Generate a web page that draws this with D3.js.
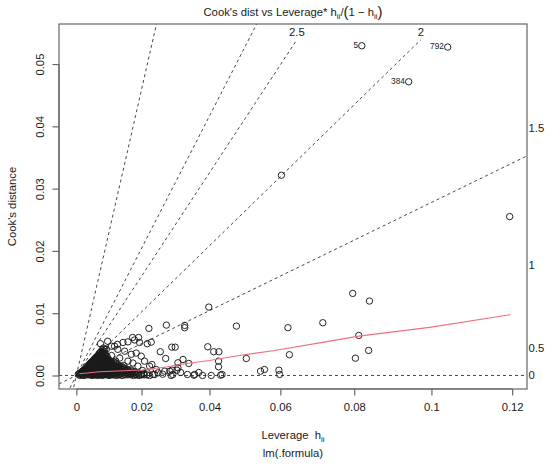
<!DOCTYPE html>
<html>
<head>
<meta charset="utf-8">
<script src="https://cdn.jsdelivr.net/npm/d3@7"></script>
<style>
  body { margin: 0; background: #fff; }
  text { font-family: "Liberation Sans", Arial, Helvetica, sans-serif; fill: #1a1a1a; }
</style>
</head>
<body>
<div id="chart"></div>
<script>
// axis ticks: leverage labels are pretty(hii), drawn at h/(1-h)
const levTicks = [0, 0.02, 0.04, 0.06, 0.08, 0.1, 0.12];
const levTickLabels = ["0", "0.02", "0.04", "0.06", "0.08", "0.1", "0.12"];
const cookTicks = [0, 0.01, 0.02, 0.03, 0.04, 0.05];
const cookTickLabels = ["0.00", "0.01", "0.02", "0.03", "0.04", "0.05"];

// Cook's distance contour levels and number of coefficients
const contourVals = [0, 0.5, 1, 1.5, 2, 2.5];
const nCoef = 8;

// labelled observations
const idLabels = ["5", "792", "384"];
const idLev = [0.0820, 0.1041, 0.0942];
const idCook = [0.05294, 0.05273, 0.04716];

// the other observations [leverage, cook's distance]
const obs = [
  // spread-out points
  [0.0603, 0.03215], [0.1194, 0.02551], [0.0796, 0.01318], [0.0840, 0.01195],
  [0.0716, 0.00847], [0.0812, 0.00643], [0.0803, 0.00278], [0.0838, 0.00402],
  [0.0621, 0.00767], [0.0625, 0.00333], [0.0596, 0.00085], [0.0598, 0.00016],
  [0.0545, 0.00069], [0.0556, 0.00096], [0.0505, 0.00273], [0.0477, 0.00793],
  [0.0398, 0.01098], [0.0426, 0.00230], [0.0426, 0.00140], [0.0412, 0.00381],
  [0.0427, 0.00381], [0.0395, 0.00461], [0.0405, 0.00000], [0.0432, 0.00005],
  [0.0436, 0.00016], [0.0357, 0.00016], [0.0355, 0.00005], [0.0328, 0.00804],
  [0.0328, 0.00767], [0.0323, 0.00257], [0.0308, 0.00204], [0.0340, 0.00193],
  [0.0274, 0.00809], [0.0222, 0.00756], [0.0217, 0.00510], [0.0229, 0.00535],
  [0.0256, 0.00381], [0.0272, 0.00273], [0.0290, 0.00455], [0.0300, 0.00455],
  [0.0231, 0.00177], [0.0244, 0.00096], [0.0269, 0.00069], [0.0284, 0.00069],
  [0.0305, 0.00085], [0.0293, 0.00016], [0.0217, 0.00043], [0.0234, 0.00016],
  [0.0249, 0.00043], [0.0308, 0.00124], [0.0291, 0.00085],
  [0.0239, 0.00016], [0.0263, 0.00020], [0.0288, 0.00000], [0.0316, 0.00048],
  [0.0336, 0.00016], [0.0369, 0.00048], [0.0380, 0.00000],
  // open circles around the dense cluster
  [0.0075, 0.0051], [0.0093, 0.0042], [0.0097, 0.0055], [0.0109, 0.0047],
  [0.0118, 0.0047], [0.0127, 0.0050], [0.0144, 0.0053], [0.0159, 0.0054],
  [0.0173, 0.0061], [0.0179, 0.0057], [0.0191, 0.0061], [0.0194, 0.0053],
  [0.0128, 0.0042], [0.0149, 0.0039], [0.0169, 0.0034], [0.0184, 0.0036],
  [0.0199, 0.0031], [0.0134, 0.0028], [0.0159, 0.0023], [0.0174, 0.0020],
  [0.0189, 0.0015], [0.0209, 0.0023], [0.0224, 0.0015], [0.0203, 0.0008],
  [0.0109, 0.0032], [0.0122, 0.0023], [0.0146, 0.0016], [0.0100, 0.0021],
  // dense cluster near the origin
  [0.0011, 0.0000], [0.0024, 0.0000], [0.0037, 0.0001], [0.0049, 0.0000], [0.0058, 0.0001],
  [0.0066, 0.0000], [0.0079, 0.0000], [0.0087, 0.0001], [0.0101, 0.0000], [0.0112, 0.0001],
  [0.0124, 0.0000], [0.0141, 0.0000], [0.0159, 0.0001], [0.0176, 0.0000], [0.0192, 0.0000],
  [0.0208, 0.0001], [0.0224, 0.0000],
  [0.0018, 0.0001], [0.0030, 0.0001], [0.0043, 0.0001], [0.0054, 0.0001], [0.0062, 0.0001],
  [0.0072, 0.0001], [0.0083, 0.0001], [0.0094, 0.0001], [0.0107, 0.0001], [0.0118, 0.0001],
  [0.0132, 0.0001], [0.0150, 0.0001], [0.0168, 0.0001], [0.0184, 0.0001], [0.0200, 0.0001],
  [0.0216, 0.0001],
  [0.0006, 0.0002], [0.0015, 0.0002], [0.0027, 0.0003], [0.0033, 0.0002], [0.0045, 0.0002],
  [0.0053, 0.0003], [0.0062, 0.0002], [0.0071, 0.0002], [0.0083, 0.0003], [0.0094, 0.0002],
  [0.0106, 0.0002], [0.0118, 0.0003], [0.0131, 0.0002], [0.0149, 0.0002], [0.0167, 0.0003],
  [0.0183, 0.0002], [0.0199, 0.0002],
  [0.0009, 0.0003], [0.0018, 0.0003], [0.0024, 0.0003], [0.0036, 0.0003], [0.0042, 0.0003],
  [0.0050, 0.0003], [0.0059, 0.0003], [0.0066, 0.0003], [0.0077, 0.0003], [0.0088, 0.0003],
  [0.0100, 0.0003], [0.0112, 0.0003], [0.0125, 0.0003], [0.0140, 0.0003], [0.0158, 0.0003],
  [0.0175, 0.0003], [0.0191, 0.0003], [0.0207, 0.0003],
  [0.0012, 0.0004], [0.0021, 0.0005], [0.0030, 0.0004], [0.0039, 0.0004], [0.0048, 0.0005],
  [0.0057, 0.0004], [0.0068, 0.0004], [0.0076, 0.0005], [0.0089, 0.0004], [0.0098, 0.0004],
  [0.0109, 0.0005], [0.0122, 0.0004], [0.0137, 0.0004], [0.0154, 0.0005], [0.0171, 0.0004],
  [0.0188, 0.0004],
  [0.0016, 0.0005], [0.0025, 0.0005], [0.0034, 0.0005], [0.0044, 0.0005], [0.0053, 0.0005],
  [0.0062, 0.0005], [0.0072, 0.0005], [0.0082, 0.0005], [0.0093, 0.0005], [0.0103, 0.0005],
  [0.0115, 0.0005], [0.0129, 0.0005], [0.0145, 0.0005], [0.0162, 0.0005], [0.0180, 0.0005],
  [0.0017, 0.0006], [0.0026, 0.0007], [0.0035, 0.0006], [0.0043, 0.0006], [0.0052, 0.0007],
  [0.0061, 0.0006], [0.0073, 0.0006], [0.0081, 0.0007], [0.0092, 0.0006], [0.0104, 0.0006],
  [0.0115, 0.0007], [0.0128, 0.0006], [0.0143, 0.0006], [0.0162, 0.0007], [0.0179, 0.0006],
  [0.0021, 0.0007], [0.0030, 0.0007], [0.0039, 0.0007], [0.0048, 0.0007], [0.0057, 0.0007],
  [0.0067, 0.0007], [0.0077, 0.0007], [0.0086, 0.0007], [0.0098, 0.0007], [0.0109, 0.0007],
  [0.0121, 0.0007], [0.0135, 0.0007], [0.0152, 0.0007], [0.0170, 0.0007],
  [0.0022, 0.0008], [0.0031, 0.0009], [0.0040, 0.0008], [0.0047, 0.0008], [0.0056, 0.0009],
  [0.0065, 0.0008], [0.0077, 0.0008], [0.0086, 0.0009], [0.0097, 0.0008], [0.0108, 0.0008],
  [0.0119, 0.0009], [0.0134, 0.0008], [0.0151, 0.0008], [0.0168, 0.0009],
  [0.0026, 0.0009], [0.0035, 0.0009], [0.0043, 0.0009], [0.0052, 0.0009], [0.0060, 0.0009],
  [0.0071, 0.0009], [0.0081, 0.0009], [0.0091, 0.0009], [0.0102, 0.0009], [0.0113, 0.0009],
  [0.0126, 0.0009], [0.0142, 0.0009], [0.0159, 0.0009],
  [0.0026, 0.0010], [0.0034, 0.0011], [0.0044, 0.0010], [0.0051, 0.0010], [0.0060, 0.0011],
  [0.0070, 0.0010], [0.0080, 0.0010], [0.0091, 0.0011], [0.0102, 0.0010], [0.0113, 0.0010],
  [0.0126, 0.0011], [0.0140, 0.0010], [0.0157, 0.0010],
  [0.0030, 0.0011], [0.0038, 0.0011], [0.0047, 0.0011], [0.0055, 0.0011], [0.0065, 0.0011],
  [0.0075, 0.0011], [0.0085, 0.0011], [0.0096, 0.0011], [0.0107, 0.0011], [0.0119, 0.0011],
  [0.0133, 0.0011], [0.0149, 0.0011],
  [0.0030, 0.0012], [0.0039, 0.0013], [0.0047, 0.0012], [0.0055, 0.0012], [0.0064, 0.0013],
  [0.0074, 0.0012], [0.0084, 0.0012], [0.0095, 0.0013], [0.0106, 0.0012], [0.0118, 0.0012],
  [0.0132, 0.0013], [0.0148, 0.0012],
  [0.0034, 0.0013], [0.0043, 0.0013], [0.0051, 0.0013], [0.0059, 0.0013], [0.0069, 0.0013],
  [0.0079, 0.0013], [0.0089, 0.0013], [0.0100, 0.0013], [0.0112, 0.0013], [0.0125, 0.0013],
  [0.0140, 0.0013],
  [0.0034, 0.0014], [0.0042, 0.0015], [0.0051, 0.0014], [0.0059, 0.0014], [0.0068, 0.0015],
  [0.0078, 0.0014], [0.0088, 0.0014], [0.0099, 0.0015], [0.0111, 0.0014], [0.0124, 0.0014],
  [0.0139, 0.0015],
  [0.0037, 0.00155], [0.0046, 0.00155], [0.0055, 0.00155], [0.0063, 0.00155], [0.0073, 0.00155],
  [0.0083, 0.00155], [0.0093, 0.00155], [0.0104, 0.00155], [0.0117, 0.00155], [0.0131, 0.00155],
  [0.0039, 0.0017], [0.0047, 0.0018], [0.0056, 0.0017], [0.0064, 0.0017], [0.0073, 0.0018],
  [0.0083, 0.0017], [0.0093, 0.0017], [0.0104, 0.0018], [0.0116, 0.0017], [0.0129, 0.0017],
  [0.0042, 0.00185], [0.0051, 0.00185], [0.0060, 0.00185], [0.0068, 0.00185], [0.0078, 0.00185],
  [0.0088, 0.00185], [0.0099, 0.00185], [0.0110, 0.00185], [0.0123, 0.00185],
  [0.0044, 0.0020], [0.0052, 0.0021], [0.0061, 0.0020], [0.0069, 0.0020], [0.0078, 0.0021],
  [0.0088, 0.0020], [0.0098, 0.0020], [0.0110, 0.0021], [0.0121, 0.0020],
  [0.0047, 0.00215], [0.0056, 0.00215], [0.0065, 0.00215], [0.0073, 0.00215], [0.0083, 0.00215],
  [0.0093, 0.00215], [0.0104, 0.00215], [0.0115, 0.00215],
  [0.0050, 0.0023], [0.0058, 0.0024], [0.0066, 0.0023], [0.0075, 0.0023], [0.0084, 0.0024],
  [0.0094, 0.0023], [0.0105, 0.0023],
  [0.0053, 0.00245], [0.0061, 0.00245], [0.0070, 0.00245], [0.0079, 0.00245], [0.0088, 0.00245],
  [0.0098, 0.00245],
  [0.0056, 0.0026], [0.0063, 0.0027], [0.0072, 0.0026], [0.0080, 0.0026], [0.0090, 0.0027],
  [0.0100, 0.0026],
  [0.0058, 0.00275], [0.0066, 0.00275], [0.0074, 0.00275], [0.0083, 0.00275], [0.0092, 0.00275],
  [0.0061, 0.0029], [0.0069, 0.0030], [0.0077, 0.0029], [0.0086, 0.0029], [0.0096, 0.0030],
  [0.0064, 0.00305], [0.0072, 0.00305], [0.0080, 0.00305], [0.0089, 0.00305],
  [0.0067, 0.0032], [0.0075, 0.0033], [0.0083, 0.0032], [0.0092, 0.0032],
  [0.0070, 0.0034], [0.0078, 0.0034], [0.0086, 0.0034],
  [0.0071, 0.0035], [0.0080, 0.0036], [0.0089, 0.0035],
  [0.0074, 0.0037], [0.0082, 0.0037],
  [0.0076, 0.0038], [0.0085, 0.0039], [0.0080, 0.0041], [0.0088, 0.0042], [0.0084, 0.0044]
];

// red smoother (leverage, cook's distance)
const smoothLev = [0.0010, 0.0072, 0.0199, 0.0274, 0.0333, 0.0400, 0.0467, 0.0584, 0.0707, 0.0812, 0.0995, 0.1196];
const smoothCook = [0.00027, 0.00059, 0.00088, 0.00137, 0.00193, 0.00241, 0.00305, 0.00402, 0.00523, 0.00632, 0.00772, 0.00976];

const W = 550, H = 465;
const box = { left: 59, right: 527, top: 24, bottom: 389 };
const toG = h => h / (1 - h);

const allLev = obs.map(d => d[0]).concat(idLev);
const allCook = obs.map(d => d[1]).concat(idCook);
const gMax = d3.max(allLev, toG);
const ymx = d3.max(allCook) * 1.025;

const x = d3.scaleLinear().domain([-0.04 * gMax, gMax * 1.04]).range([box.left, box.right]);
const y = d3.scaleLinear().domain([-0.04 * ymx, ymx * 1.04]).range([box.bottom, box.top]);

const svg = d3.select("#chart").append("svg")
  .attr("width", W).attr("height", H);

svg.append("clipPath").attr("id", "clip")
  .append("rect")
  .attr("x", box.left).attr("y", box.top)
  .attr("width", box.right - box.left).attr("height", box.bottom - box.top);

const plot = svg.append("g").attr("clip-path", "url(#clip)");
const axisCol = "#666";

// contour lines (R draws the abline ones with slope bi2)
const xmin = x.domain()[0], xmax = x.domain()[1], ymax = y.domain()[1];
const strH = y.invert(y(0) - 10.5);
const strW3 = x.invert(x(0) + 1.5) - x.invert(x(0));
contourVals.forEach(b => {
  const bi2 = b * b;
  if (nCoef * ymax > bi2 * xmax) {
    const xi = xmax + strW3;
    const yi = bi2 * xi / nCoef;
    plot.append("line")
      .attr("x1", x(xmin)).attr("y1", y(bi2 * xmin))
      .attr("x2", x(xmax)).attr("y2", y(bi2 * xmax))
      .attr("stroke", "#333").attr("stroke-width", 0.9)
      .attr("stroke-dasharray", "3,3");
    svg.append("text")
      .attr("x", x(xi)).attr("y", y(yi))
      .attr("dominant-baseline", "central")
      .attr("font-size", 11.3)
      .text(String(b));
  } else {
    const yi = ymax - 1.5 * strH;
    const xi = nCoef * yi / bi2;
    plot.append("line")
      .attr("x1", x(0)).attr("y1", y(0))
      .attr("x2", x(xi)).attr("y2", y(yi))
      .attr("stroke", "#333").attr("stroke-width", 0.9)
      .attr("stroke-dasharray", "3,3");
    svg.append("text")
      .attr("x", x(xi)).attr("y", y(ymax - 0.8 * strH))
      .attr("text-anchor", "middle")
      .attr("dominant-baseline", "central")
      .attr("font-size", 11.3)
      .text(String(b));
  }
});

// points
plot.selectAll("circle.obs")
  .data(obs.concat(idLev.map((h, i) => [h, idCook[i]])))
  .join("circle")
  .attr("cx", d => x(toG(d[0])))
  .attr("cy", d => y(d[1]))
  .attr("r", 3.2)
  .attr("fill", "none")
  .attr("stroke", "#1a1a1a")
  .attr("stroke-width", 0.95);

// smoother
plot.append("path")
  .datum(smoothLev.map((h, i) => [h, smoothCook[i]]))
  .attr("fill", "none")
  .attr("stroke", "#ef6f82")
  .attr("stroke-width", 1.1)
  .attr("d", d3.line().x(d => x(toG(d[0]))).y(d => y(d[1])));

// id labels
idLabels.forEach((lab, i) => {
  svg.append("text")
    .attr("x", x(toG(idLev[i])) - 3.8)
    .attr("y", y(idCook[i]) - 0.8)
    .attr("text-anchor", "end")
    .attr("dominant-baseline", "central")
    .attr("font-size", 8.3)
    .text(lab);
});

// box
svg.append("rect")
  .attr("x", box.left).attr("y", box.top)
  .attr("width", box.right - box.left).attr("height", box.bottom - box.top)
  .attr("fill", "none").attr("stroke", axisCol).attr("stroke-width", 1.2);

// x axis
const xAxis = svg.append("g").attr("transform", "translate(0," + box.bottom + ")")
  .call(d3.axisBottom(x)
    .tickValues(levTicks.map(toG))
    .tickFormat((d, i) => levTickLabels[i])
    .tickSize(6.5).tickPadding(7));
xAxis.select(".domain").attr("stroke", axisCol).attr("stroke-width", 1.2)
  .attr("d", "M" + x(0) + ",0H" + x(toG(0.12)));
xAxis.selectAll(".tick line").attr("stroke", axisCol).attr("stroke-width", 1.2);
xAxis.selectAll(".tick text").attr("font-size", 11.3).attr("font-family", null).attr("fill", "#1a1a1a");

// y axis
const yAxis = svg.append("g").attr("transform", "translate(" + box.left + ",0)")
  .call(d3.axisLeft(y).tickValues(cookTicks).tickFormat((d, i) => cookTickLabels[i]).tickSize(6.5));
yAxis.select(".domain").attr("stroke", axisCol).attr("stroke-width", 1.2)
  .attr("d", "M0," + y(0) + "V" + y(0.05));
yAxis.selectAll(".tick line").attr("stroke", axisCol).attr("stroke-width", 1.2);
yAxis.selectAll(".tick text")
  .attr("font-size", 11.3).attr("font-family", null).attr("fill", "#1a1a1a")
  .attr("x", null).attr("dy", null)
  .attr("text-anchor", "middle")
  .attr("transform", "translate(-15,0) rotate(-90)");

// axis titles
svg.append("text")
  .attr("transform", "translate(15.5," + ((box.top + box.bottom) / 2) + ") rotate(-90)")
  .attr("text-anchor", "middle")
  .attr("font-size", 11.3)
  .text("Cook's distance");

const xl = svg.append("text")
  .attr("x", (box.left + box.right) / 2).attr("y", 439)
  .attr("text-anchor", "middle")
  .attr("font-size", 11.3);
xl.append("tspan").text("Leverage\u00a0\u00a0h");
xl.append("tspan").attr("dy", 2.5).attr("font-size", 8).text("ii");

svg.append("text")
  .attr("x", (box.left + box.right) / 2).attr("y", 457)
  .attr("text-anchor", "middle")
  .attr("font-size", 11.3)
  .text("lm(.formula)");

// title
const tt = svg.append("text")
  .attr("x", (box.left + box.right) / 2).attr("y", 16)
  .attr("text-anchor", "middle")
  .attr("font-size", 11.3);
tt.append("tspan").text("Cook's dist vs Leverage* h");
tt.append("tspan").attr("dy", 2.5).attr("font-size", 8).text("ii");
tt.append("tspan").attr("dy", -2.5).text("/");
tt.append("tspan").attr("dy", 1).attr("font-size", 15).text("(");
tt.append("tspan").attr("dy", -1).text("1 \u2212 h");
tt.append("tspan").attr("dy", 2.5).attr("font-size", 8).text("ii");
tt.append("tspan").attr("dy", -1.5).attr("font-size", 15).text(")");
</script>
</body>
</html>
